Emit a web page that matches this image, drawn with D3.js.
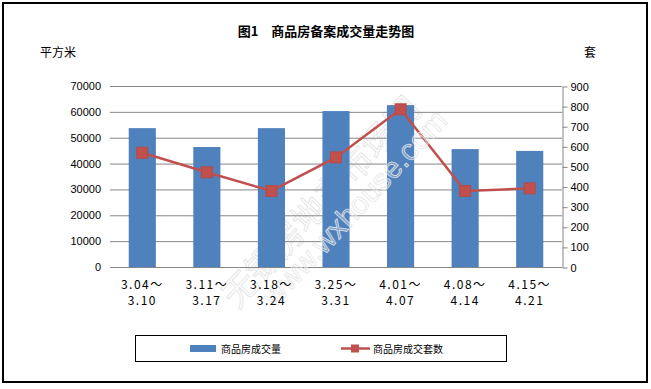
<!DOCTYPE html>
<html>
<head>
<meta charset="utf-8">
<script src="https://cdn.jsdelivr.net/npm/d3@7"></script>
<style>
  body { margin: 0; background: white; }
  text { font-family: "Liberation Sans", Arial, sans-serif; }
  .cjk { font-family: "Noto Sans CJK SC", sans-serif; }
</style>
</head>
<body>
<svg id="chart" width="651" height="389"></svg>
<script>
// weekly ranges (two lines each)
let weekStart = ['3.04～', '3.11～', '3.18～', '3.25～', '4.01～', '4.08～', '4.15～']
let weekEnd = ['3.10', '3.17', '3.24', '3.31', '4.07', '4.14', '4.21']

// 商品房成交量 (平方米) and 商品房成交套数 (套)
let area = [53700, 46400, 53700, 60300, 62600, 45600, 44900]
let units = [568, 471, 378, 545, 784, 378, 391]

let leftTicks = [0, 10000, 20000, 30000, 40000, 50000, 60000, 70000]
let rightTicks = [0, 100, 200, 300, 400, 500, 600, 700, 800, 900]

let svg = d3.select('#chart')

// outer frame
svg.append('rect')
  .attr('x', 3).attr('y', 3)
  .attr('width', 644).attr('height', 379)
  .attr('fill', 'white')
  .attr('stroke', 'black')
  .attr('stroke-width', 2)

let plotL = 110, plotR = 562, plotT = 86, plotB = 267

let x = d3.scaleBand().domain(d3.range(weekStart.length)).range([plotL, plotR]).paddingInner(0.58).paddingOuter(0.29)
let y = d3.scaleLinear().domain([0, 70000]).range([plotB, plotT])
let y2 = d3.scaleLinear().domain([0, 900]).range([plotB, plotT])

// title + unit labels
svg.append('text').attr('class', 'cjk')
  .attr('x', 326).attr('y', 36)
  .attr('text-anchor', 'middle')
  .attr('font-size', 13).attr('font-weight', 'bold')
  .text('图1　商品房备案成交量走势图')

svg.append('text').attr('class', 'cjk')
  .attr('x', 40).attr('y', 57)
  .attr('font-size', 12)
  .text('平方米')

svg.append('text').attr('class', 'cjk')
  .attr('x', 584).attr('y', 57)
  .attr('font-size', 12)
  .text('套')

// watermark (under the marks)
svg.append('text')
  .attr('transform', 'translate(330,210) rotate(-47)')
  .attr('text-anchor', 'middle')
  .attr('font-size', 34)
  .attr('fill', 'none')
  .attr('stroke', '#e2e2e2')
  .attr('stroke-width', 0.8)
  .style('font-family', '"Noto Sans CJK SC", sans-serif')
  .text('无锡房地产市场网')

// gridlines
svg.append('g').selectAll('line').data(leftTicks).enter()
  .append('line')
  .attr('x1', plotL).attr('x2', plotR)
  .attr('y1', d => y(d) + 0.5).attr('y2', d => y(d) + 0.5)
  .attr('stroke', '#868686')
  .attr('stroke-width', 1)

// left axis labels
let leftAxis = svg.append('g')
  .attr('transform', `translate(${plotL - 4},0)`)
  .call(d3.axisLeft(y).tickValues(leftTicks).tickFormat(d3.format('d')).tickSize(0).tickPadding(5))
leftAxis.select('.domain').remove()
leftAxis.selectAll('text').attr('font-size', 11).attr('fill', 'black')
  .style('font-family', '"Liberation Sans", Arial, sans-serif')

// right axis
let rightAxis = svg.append('g')
  .attr('transform', `translate(${plotR + 0.5},0.5)`)
  .call(d3.axisRight(y2).tickValues(rightTicks).tickFormat(d3.format('d')).tickSize(5).tickPadding(3).tickSizeOuter(0))
rightAxis.select('.domain').attr('stroke', '#868686')
rightAxis.selectAll('line').attr('stroke', '#868686')
rightAxis.selectAll('text').attr('font-size', 11).attr('fill', 'black')
  .style('font-family', '"Liberation Sans", Arial, sans-serif')

// bars
svg.append('g').selectAll('rect').data(area).enter()
  .append('rect')
  .attr('x', (d, i) => x(i))
  .attr('y', d => y(d))
  .attr('width', x.bandwidth())
  .attr('height', d => plotB - y(d))
  .attr('fill', '#4f81bd')

// baseline
svg.append('line')
  .attr('x1', plotL).attr('x2', plotR)
  .attr('y1', plotB + 0.5).attr('y2', plotB + 0.5)
  .attr('stroke', '#868686')

// line series
let cx = i => x(i) + x.bandwidth() / 2
svg.append('path')
  .datum(units)
  .attr('d', d3.line().x((d, i) => cx(i)).y(d => y2(d)))
  .attr('fill', 'none')
  .attr('stroke', '#c0504d')
  .attr('stroke-width', 2.5)

svg.append('g').selectAll('rect').data(units).enter()
  .append('rect')
  .attr('x', (d, i) => cx(i) - 5.5)
  .attr('y', d => y2(d) - 5.5)
  .attr('width', 11).attr('height', 11)
  .attr('fill', '#c0504d')
  .attr('stroke', '#b54a47')

// watermark url over the marks
svg.append('text')
  .attr('transform', 'translate(362,215) rotate(-47)')
  .attr('text-anchor', 'middle')
  .attr('font-size', 30)
  .attr('fill', 'white')
  .attr('fill-opacity', 0.3)
  .attr('stroke', '#e4e4e4')
  .attr('stroke-width', 0.7)
  .text('www.wxhouse.com')

// x labels
let xl = svg.append('g').selectAll('g').data(weekStart).enter()
  .append('g')
  .attr('transform', (d, i) => `translate(${cx(i)},0)`)
xl.append('text')
  .attr('y', 289).attr('text-anchor', 'middle')
  .attr('font-size', 12).attr('letter-spacing', 1.5)
  .style('font-family', '"Noto Sans CJK SC", sans-serif')
  .text(d => d)
xl.append('text')
  .attr('y', 305).attr('text-anchor', 'middle')
  .attr('font-size', 12).attr('letter-spacing', 1.5)
  .style('font-family', '"Noto Sans CJK SC", sans-serif')
  .text((d, i) => weekEnd[i])

// legend
let legend = svg.append('g')
legend.append('rect')
  .attr('x', 135.5).attr('y', 335.5)
  .attr('width', 371).attr('height', 26)
  .attr('fill', 'white').attr('stroke', 'black')
legend.append('rect')
  .attr('x', 190).attr('y', 345)
  .attr('width', 26).attr('height', 7)
  .attr('fill', '#4f81bd')
legend.append('text').attr('class', 'cjk')
  .attr('x', 221).attr('y', 352.5)
  .attr('font-size', 10)
  .text('商品房成交量')
legend.append('line')
  .attr('x1', 341).attr('x2', 370)
  .attr('y1', 348.5).attr('y2', 348.5)
  .attr('stroke', '#c0504d').attr('stroke-width', 2.5)
legend.append('rect')
  .attr('x', 351).attr('y', 344.5)
  .attr('width', 8).attr('height', 8)
  .attr('fill', '#c0504d')
legend.append('text').attr('class', 'cjk')
  .attr('x', 373).attr('y', 352.5)
  .attr('font-size', 10)
  .text('商品房成交套数')
</script>
</body>
</html>
